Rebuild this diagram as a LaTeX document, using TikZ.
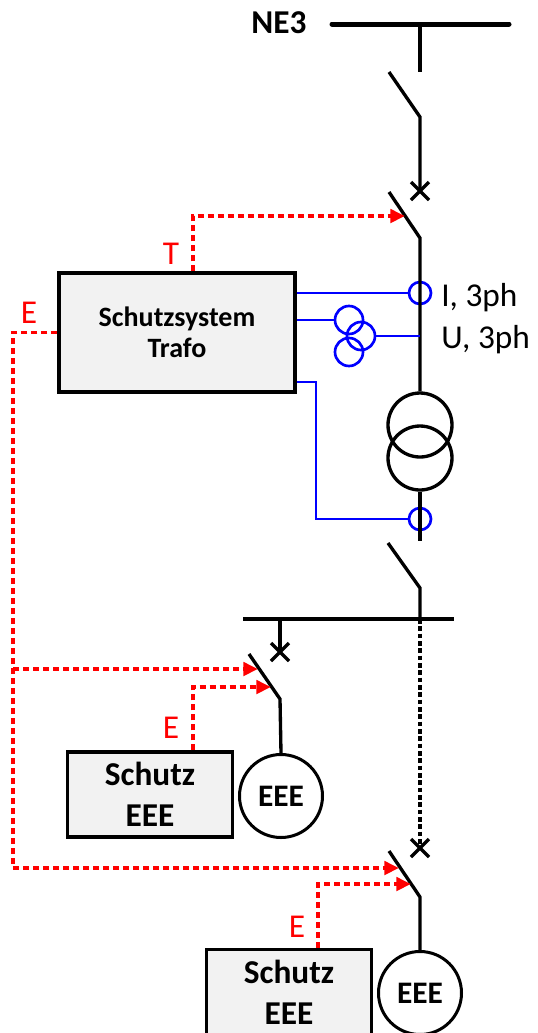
\documentclass[tikz,border=0pt]{standalone}
\usepackage{fontspec}
\setmainfont{Carlito}
\usetikzlibrary{arrows.meta}
\tikzset{
leitung/.style={line width=2.5pt},
schiene/.style={line width=3.75pt, line cap=round},
messung/.style={blue, line width=1.75pt},
wandler/.style={circle, draw=blue, line width=2pt, inner sep=0pt},
trafokreis/.style={circle, draw, line width=2.5pt, minimum size=48pt, inner sep=0pt},
ausloesung/.style={red, line width=2.7pt, dash pattern=on 4.5pt off 3pt, -{Triangle[length=11pt,width=10pt]}},
schutzbox/.style={draw, line width=2.5pt, fill=black!5, align=center, inner sep=0pt},
verbraucher/.style={circle, draw, line width=2.25pt, minimum size=62.25pt, inner sep=0pt, font=\fontsize{23.5}{28}\selectfont\bfseries},
rotlabel/.style={red, font=\fontsize{25}{30}\selectfont}}

\begin{document}
\begin{tikzpicture}[x=0.75pt, y=-0.75pt]
\useasboundingbox (0,0) rectangle (537,1033);

                \node[font=\fontsize{25}{30}\selectfont\bfseries] (ne3) at (279,23) {NE3};
                \draw[schiene] (332,24) -- (509,24);
                \draw[leitung, line width=3pt] (243,619) -- (454,619);

                \node[trafokreis] (tr1) at (420,425) {};
                \node[trafokreis] (tr2) at (420,458) {};
                \node[wandler, minimum size=16.5pt] (ct1) at (420,293) {};
                \node[wandler, minimum size=16.5pt] (ct2) at (420,519) {};
                \node[wandler, minimum size=21pt] (vt1) at (349,320) {};
                \node[wandler, minimum size=21pt] (vt2) at (361,336) {};
                \node[wandler, minimum size=21pt] (vt3) at (349,352) {};
                \node[anchor=base west, inner sep=0pt, font=\fontsize{25}{30}\selectfont] (ilabel) at (441,306) {I, 3ph};
                \node[anchor=base west, inner sep=0pt, font=\fontsize{25}{30}\selectfont] (ulabel) at (441,348) {U, 3ph};

                \node[schutzbox, minimum width=177pt, minimum height=89.25pt, font=\fontsize{21}{23.25}\selectfont\bfseries] (trafo) at (177,332.5) {Schutzsystem\\Trafo};
                \node[schutzbox, minimum width=123.75pt, minimum height=63.75pt, font=\fontsize{25}{30.75}\selectfont\bfseries] (schutz1) at (150,794.5) {Schutz\\EEE};
                \node[schutzbox, minimum width=123.75pt, minimum height=63.75pt, font=\fontsize{25}{30.75}\selectfont\bfseries] (schutz2) at (289,992) {Schutz\\EEE};
                \node[verbraucher] (eee1) at (281,796) {EEE};
                \node[verbraucher] (eee2) at (420,993) {EEE};

                \coordinate (ausT) at (405,216);
                \coordinate (ausE3) at (258,669);
                \coordinate (ausS3) at (271,687);
                \coordinate (ausE4) at (399,868);
                \coordinate (ausS4) at (411,884);

                \draw[leitung] (420,24) -- (420,72);
                \draw[leitung] (389,72) -- (420,117) -- (420,191);
                \draw[leitung] (389,192) -- (420,238) -- (tr1.north);
                \draw[leitung] (tr2.south) -- (420,541);
                \draw[leitung] (388,543) -- (420,588) -- (420,619);
                \draw[leitung] (280,619) -- (280,652);
                \draw[leitung] (249,654) -- (280,699) -- (eee1.north);
                \draw[line width=2.5pt, dash pattern=on 3.5pt off 2pt] (420,619) -- (420,848);
                \draw[leitung] (389,851) -- (420,897) -- (eee2.north);
                \foreach \p in {(420,191),(280,652),(420,848)}
                    \draw[leitung] \p +(-9,-9) -- +(9,9) \p +(-9,9) -- +(9,-9);

                \draw[messung] (trafo.east |- ct1) -- (ct1.west);
                \draw[messung] (trafo.east |- vt1) -- (vt1.west);
                \draw[messung] (vt2.east) -- (vt2.east -| ct1);
                \draw[messung] (trafo.east |- 0,382) -| (316,519) -- (ct2.west);

                \draw[ausloesung] (trafo.north -| 193,0) |- (ausT);
                \draw[ausloesung] (trafo.west) -| (13,868) -- (ausE4);
                \draw[ausloesung] (13,669) -- (ausE3);
                \draw[ausloesung] (schutz1.north -| 193,0) |- (ausS3);
                \draw[ausloesung] (schutz2.north -| 318,0) |- (ausS4);

                \node[rotlabel] (lT) at (171,254) {T};
                \node[rotlabel] (lE1) at (29,313) {E};
                \node[rotlabel] (lE2) at (171,728) {E};
                \node[rotlabel] (lE3) at (297,927) {E};

            \end{tikzpicture}
\end{document}
